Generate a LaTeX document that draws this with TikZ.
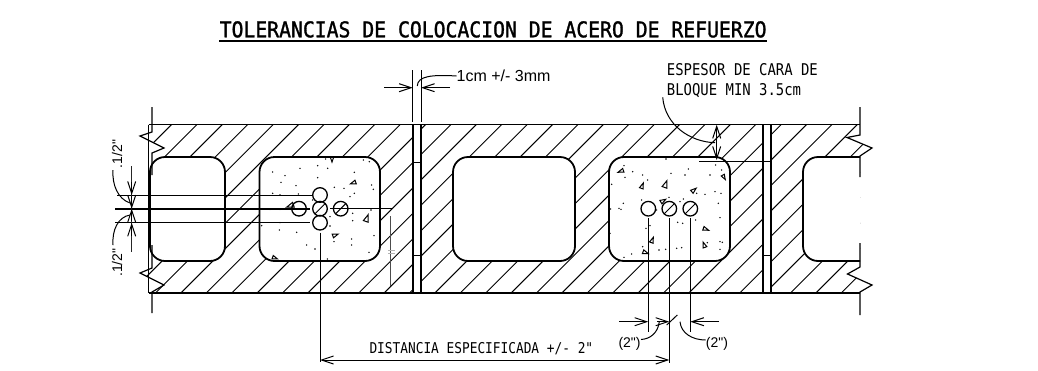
\documentclass[tikz,border=0pt]{standalone}
\usepackage{fontspec}
\usetikzlibrary{arrows.meta}
\newfontfamily\cad[FakeStretch=0.86]{DejaVu Sans Mono}
\newfontfamily\cadb[FakeStretch=0.91,FakeBold=1.3]{DejaVu Sans Mono}
\newfontfamily\arl{Liberation Sans}
\tikzset{
  x=1pt,y=-1pt,
  cellbox/.style={draw=black,fill=white,line width=1.8pt,rounded corners=15pt},
  wall/.style={line width=1.7pt,line cap=butt},
  hatchline/.style={line width=0.95pt},
  thin line/.style={line width=1pt},
  dimline/.style={line width=1pt},
  bartip/.style={line width=1pt,-{Straight Barb[length=12pt,width=8pt]}},
  rebar/.style={draw=black,fill=white,line width=1.3pt},
  lab/.style={inner sep=0pt,anchor=base west,font=\cad\fontsize{14.9}{15}\selectfont},
  smalllab/.style={inner sep=0pt,anchor=base west,font=\arl\fontsize{14}{14}\selectfont},
}
\newcommand{\tri}[4]{\draw[line width=1pt,shift={(#1,#2)},rotate=#3,line join=miter] (-#4,-0.7*#4) -- (#4,0) -- (-#4,0.7*#4) -- cycle;}
\newcommand{\dotsat}[3]{\foreach \px/\py in {#3} \fill ({#1+\px/3},{#2+\py/3}) circle (0.8pt);}
\newcommand{\slashed}[2]{\draw[line width=1pt] ({#1-5.2},{#2+5.2}) -- ({#1+5.2},{#2-5.2});}
\begin{document}
\begin{tikzpicture}
\useasboundingbox (0,0) rectangle (1038,370);
\fill[white] (0,0) rectangle (1038,370);
% hatching, clipped to the block outline with its break lines
\begin{scope}
\clip (152,124.5) -- (860,124.5) -- (860,135) -- (847,137.5) -- (872,148) -- (860,156)
  -- (860,267) -- (847.5,274) -- (872,285) -- (860,292.7) -- (152,292.7)
  -- (152,292) -- (164,285) -- (140,273) -- (152,268) -- (152,153) -- (164,148)
  -- (140,136) -- (152,132) -- cycle;
\foreach \k in {-7,...,28} {
  \draw[hatchline] ({448.5+25.4*\k-124},124) -- ({448.5+25.4*\k-294},294);
}
\end{scope}
% cells
\draw[cellbox] (150,157) rectangle (225,261);
\draw[cellbox] (259.5,157) rectangle (380,261);
\draw[cellbox] (453,157) rectangle (575,261);
\draw[cellbox] (609,157) rectangle (730,261);
\fill[white] (860,157) -- (818,157) arc[start angle=-90,end angle=-180,radius=15] -- (803,246) arc[start angle=180,end angle=90,radius=15] -- (860,261) -- cycle;
\draw[line width=1.8pt] (860,157) -- (818,157) arc[start angle=-90,end angle=-180,radius=15] -- (803,246) arc[start angle=180,end angle=90,radius=15] -- (860,261);
% joints
\fill[white] (413,124.5) rectangle (421,292.7);
\fill[white] (763,124.5) rectangle (771,292.7);
\foreach \jx in {412.7,420.7,763,771} \draw[wall] (\jx,124.5) -- (\jx,292.7);
\foreach \jx/\jy in {412.7/162,412.7/255.7,763/161.7,763/255.7} \draw[line width=1pt] (\jx,\jy) -- ({\jx+8},\jy);
% block outline
\draw[wall] (148.5,124.5) -- (860,124.5);
\draw[wall] (148.5,292.7) -- (860,292.7);
\draw[line width=1.3pt] (148.5,124.5) -- (148.5,292.7);
% break lines
\draw[line width=1.2pt] (152,107) -- (152,132) -- (140,136) -- (164,148) -- (152,153) -- (152,175);
\draw[line width=1.2pt] (152,245) -- (152,268) -- (140,273) -- (164,285) -- (152,292) -- (152,313);
\draw[line width=1.2pt] (860,107) -- (860,135) -- (847,137.5) -- (872,148) -- (860,156) -- (860,177);
\draw[line width=1.2pt] (860,243) -- (860,267) -- (847.5,274) -- (872,285) -- (860,292) -- (860,315);
% concrete speckle, cell 2
\dotsat{260}{150}{38/66,75/77,63/97,108/107,173/47,203/55,173/83,120/55,197/27,283/67,223/112,252/115,283/130,270/140,335/105,340/118,333/180,278/190,278/212,342/257,275/267,275/285,327/307,222/275,202/327,165/297,140/285,110/247,58/240,5/227,60/218,60/135,38/130,115/132,60/178,30/178,210/200,210/228,165/230,158/150,310/30,328/35}
\tri{290}{206}{200}{3.6}
\tri{332}{159.5}{-90}{2.5}
\tri{353}{183}{-160}{2.8}
\tri{367}{218}{70}{3.6}
\tri{335.5}{235}{20}{2.8}
\tri{275}{258}{-20}{2.5}
% concrete speckle, cell 4
\dotsat{600}{150}{72/47,98/65,128/75,143/90,75/82,35/103,198/27,213/70,265/57,255/75,330/75,347/45,365/60,290/130,315/133,345/125,363/130,355/160,360/203,287/210,233/217,248/220,250/147,240/155,207/142,125/150,170/180,70/160,57/175,63/178,32/177,150/227,138/235,30/250,128/290,177/300,197/298,230/295,245/293,360/275,367/277,360/298,322/278,95/312,72/322}
\tri{620.7}{171.3}{-160}{2.8}
\tri{642.3}{185.7}{70}{2.8}
\tri{665.7}{184}{70}{3.6}
\tri{694}{190}{40}{2.8}
\tri{663.3}{200.7}{30}{2.8}
\tri{706}{229.3}{-20}{2.8}
\tri{652.3}{240}{70}{2.8}
\tri{704}{244.7}{110}{2.8}
\tri{645.7}{252.7}{-20}{2.8}
\tri{724}{177.3}{-60}{2.5}
% reference lines behind bars
\draw[thin line] (117,195) -- (311.7,195);
\draw[line width=1.9pt] (115,208.7) -- (310,208.7);
\draw[thin line] (115,222.7) -- (310,222.7);
\draw[thin line] (330,208.7) -- (393,208.7);
\draw[line width=1pt,black!70] (390,216) -- (390,286);
\draw[line width=0.6pt,black!30] (388,250) -- (395,250) (388,253) -- (395,253);
% bars, cell 2
\node[circle,rebar,minimum size=14.6pt,inner sep=0pt] (b1) at (320,195) {};
\node[circle,rebar,minimum size=14.6pt,inner sep=0pt] (b3) at (320,222.7) {};
\draw[line width=1.3pt] (299,208.7) circle (7.3);
\draw[line width=1.3pt] (320,208.7) circle (7.3);
\draw[line width=1.3pt] (340.7,208.7) circle (7.3);
\slashed{320}{208.7}
\slashed{340.7}{208.7}
% bars, cell 4
\draw[line width=1.3pt] (648.3,208.7) circle (7.3);
\draw[line width=1.3pt] (669.3,208.7) circle (7.3);
\draw[line width=1.3pt] (690.3,208.7) circle (7.3);
\slashed{669.3}{208.7}
\slashed{690.3}{208.7}
% title
\node[inner sep=0pt,anchor=base west,font=\cadb\fontsize{21.7}{22}\selectfont] (title) at (219.5,37.3) {TOLERANCIAS DE COLOCACION DE ACERO DE REFUERZO};
\draw[line width=2.2pt] (219,41) -- (767,41);
% 1cm dimension
\node[inner sep=0pt,anchor=west,font=\arl\fontsize{16}{16}\selectfont] (cm) at (456.5,76) {1cm +/- 3mm};
\coordinate (cmleft) at (412.7,87.7);
\coordinate (cmright) at (421,87.7);
\draw[dimline] (412.7,70) -- (412.7,121.5);
\draw[dimline] (421,70) -- (421,121.5);
\draw[bartip] (384,87.7) -- (cmleft);
\draw[bartip] (450,87.7) -- (cmright);
\draw[dimline] (cm.west) .. controls (432,74.5) and (417.5,76) .. (417.3,86);
% face thickness
\node[lab,font=\cad\fontsize{16.2}{16}\selectfont] (esp1) at (666.7,75) {ESPESOR DE CARA DE};
\node[lab,font=\cad\fontsize{16.2}{16}\selectfont] (esp2) at (666.7,95.5) {BLOQUE MIN 3.5cm};
\coordinate (fa) at (716.7,124.8);
\coordinate (fb) at (716.7,160);
\draw[bartip] (716.7,143) -- (fa);
\draw[bartip] (716.7,143) -- (fb);
\draw[dimline] (699,161.7) -- (716,161.7);
\draw[line width=1.4pt] (716,161.7) -- (763,161.7);
\draw[dimline] (662.7,97.3) .. controls (665,125) and (690,142) .. (715,142.7);
% left dimension
\draw[line width=1.2pt,black!85] (131.7,166) -- (131.7,251.7);
\coordinate (l1) at (131.7,195);
\coordinate (l2) at (131.7,208.7);
\coordinate (l3) at (131.7,222.7);
\draw[bartip] (131.7,182) -- (l1);
\draw[bartip] (131.7,196) -- (l2);
\draw[bartip] (131.7,221) -- (l2);
\draw[bartip] (131.7,236) -- (l3);
\node[smalllab,rotate=90] (up) at (122,168.5) {.1/2"};
\node[smalllab,rotate=90] (dn) at (122,277) {.1/2"};
\draw[dimline] (113,170) .. controls (112,185) and (118,199) .. (130,203);
\draw[dimline] (113,245) .. controls (112,230) and (118,217) .. (130,215);
% long dimension
\draw[dimline] (320,232.7) -- (320,362);
\draw[dimline] (648.3,218) -- (648.3,331.7);
\draw[dimline] (669.3,218) -- (669.3,363);
\draw[dimline] (690.3,218) -- (690.3,331.7);
\coordinate (da) at (320,360);
\coordinate (db) at (669.3,360);
\draw[bartip] (490,360) -- (da);
\draw[bartip] (490,360) -- (db);
\node[lab] (dist) at (369.3,353.3) {DISTANCIA ESPECIFICADA +/- 2"};
% 2 inch dimensions
\coordinate (t1) at (648.3,321.7);
\coordinate (t2) at (669.3,321.7);
\coordinate (t3) at (690.3,321.7);
\draw[bartip] (619,321.7) -- (t1);
\draw[bartip] (657,321.7) -- (t2);
\draw[bartip] (719,321.7) -- (t3);
\draw[line width=1pt] (666.7,325) -- (677.3,315);
\node[smalllab] (in1) at (618.3,347.5) {(2")};
\node[smalllab] (in2) at (705.7,347.5) {(2")};
\draw[dimline] (641,339.5) .. controls (650,339) and (658,333) .. (659.3,321.7);
\draw[dimline] (705.7,340) .. controls (692,340) and (681,333) .. (680,321.7);
\end{tikzpicture}
\end{document}
